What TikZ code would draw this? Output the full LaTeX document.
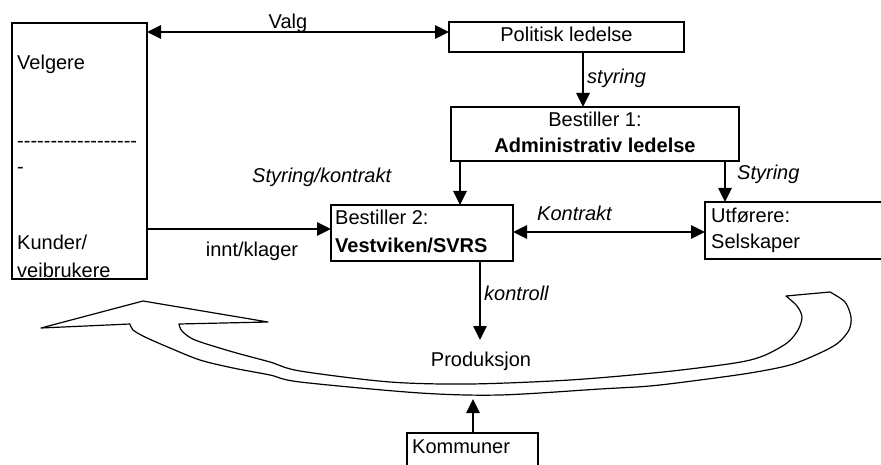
\documentclass[tikz,border=0pt]{standalone}
\usepackage{fontspec}
\setmainfont{Liberation Sans}
\usetikzlibrary{arrows.meta}
\newcommand\hh{-\kern0pt }
\begin{document}
\begin{tikzpicture}[x=1pt,y=-1pt,
  box/.style={draw,line width=1.1pt,inner sep=0pt,outer sep=0pt},
  txt/.style={font=\fontsize{20}{24}\selectfont,inner sep=0pt},
  itx/.style={font=\fontsize{20}{24}\selectfont\itshape,inner sep=0pt},
  btx/.style={font=\fontsize{20}{24}\selectfont\bfseries,inner sep=0pt},
  arr/.style={line width=2.6pt,-{Triangle[length=14pt,width=13pt]}},
  darr/.style={line width=2.6pt,{Triangle[length=14pt,width=13pt]}-{Triangle[length=14pt,width=13pt]}},
  band/.style={draw,line width=1.2pt,line join=round,fill=white}]
\useasboundingbox (0,0) rectangle (881,465);

% boxes
\node[box,minimum width=135pt,minimum height=256pt] (velg) at (79.5,151) {};
\node[box,minimum width=235pt,minimum height=30pt] (pol) at (566.5,37) {};
\node[box,minimum width=288pt,minimum height=54pt] (b1) at (595,134) {};
\node[box,minimum width=182pt,minimum height=56pt] (b2) at (422,233) {};
\node[box,minimum width=185pt,minimum height=57pt] (utf) at (797.5,230.5) {};
\node[box,minimum width=131pt,minimum height=52pt] (komm) at (472.5,459) {};

% texts in boxes
\node[txt,anchor=base west] (tvelg) at (17,70) {Velgere};
\node[txt,anchor=base west] (tdash) at (17,148) {\hh\hh\hh\hh\hh\hh\hh\hh\hh\hh\hh\hh\hh\hh\hh\hh\hh\hh};
\node[txt,anchor=base west] (tdash2) at (17,174) {-};
\node[txt,anchor=base west] (tkund) at (17,250) {Kunder/};
\node[txt,anchor=base west] (tveib) at (17,277) {veibrukere};
\node[txt,anchor=base] (tpol) at (566.5,42) {Politisk ledelse};
\node[txt,anchor=base] (tb1a) at (595,127) {Bestiller 1:};
\node[btx,anchor=base] (tb1b) at (595,153) {Administrativ ledelse};
\node[txt,anchor=base west] (tb2a) at (335,225) {Bestiller 2:};
\node[btx,anchor=base west] (tb2b) at (335,252) {Vestviken/SVRS};
\node[txt,anchor=base west] (tutfa) at (711,223) {Utførere:};
\node[txt,anchor=base west] (tutfb) at (711,248) {Selskaper};
\node[txt,anchor=base west] (tkomm) at (412,453) {Kommuner};
\node[txt,anchor=base] (prod) at (481,366) {Produksjon};

% connector labels
\node[txt,anchor=base] (lvalg) at (288,29) {Valg};
\node[itx,anchor=base west] (lstyr) at (587,84) {styring};
\node[itx,anchor=base west] (lStyr) at (737,180) {Styring};
\node[itx,anchor=base west] (lsk) at (252,183) {Styring/kontrakt};
\node[txt,anchor=base] (linnt) at (252,256) {innt/klager};
\node[itx,anchor=base west] (lkontr) at (537,221) {Kontrakt};
\node[itx,anchor=base west] (lkontroll) at (484,300) {kontroll};

% free ends
\coordinate (kend) at (480,340);
\coordinate (kommend) at (473,399);

% connectors
\draw[darr] (velg.east |- 0,32) -- (pol.west |- 0,32);
\draw[arr] (pol.south -| 583,0) -- (b1.north -| 583,0);
\draw[arr] (b1.south -| 460,0) -- (b2.north -| 460,0);
\draw[arr] (b1.south -| 725,0) -- (utf.north -| 725,0);
\draw[arr] (velg.east |- 0,229) -- (b2.west |- 0,229);
\draw[darr] (b2.east |- 0,232) -- (utf.west |- 0,232);
\draw[arr] (b2.south -| 480,0) -- (kend);
\draw[arr] (komm.north -| 473,0) -- (kommend);

% curved block arrow
\draw[band] (41,328) -- (143,301) -- (268,322) -- (179,324)
  -- plot[smooth] coordinates {(179,324) (182,331) (195,340) (233,352) (270,362) (300,371) (390,382) (470,384) (570,380) (663,372) (735,363) (763,356) (787,343) (798,330) (802,317) (797,306) (786,296)}
  -- plot[smooth] coordinates {(830,292) (845,302) (851,317) (849,330) (838,343) (820,353) (790,365) (750,373) (700,380) (650,386) (600,389) (500,395) (420,393) (300,382) (270,375) (233,368) (200,360) (170,348) (145,337) (133,330) (130,324)}
  -- cycle;
\end{tikzpicture}
\end{document}
